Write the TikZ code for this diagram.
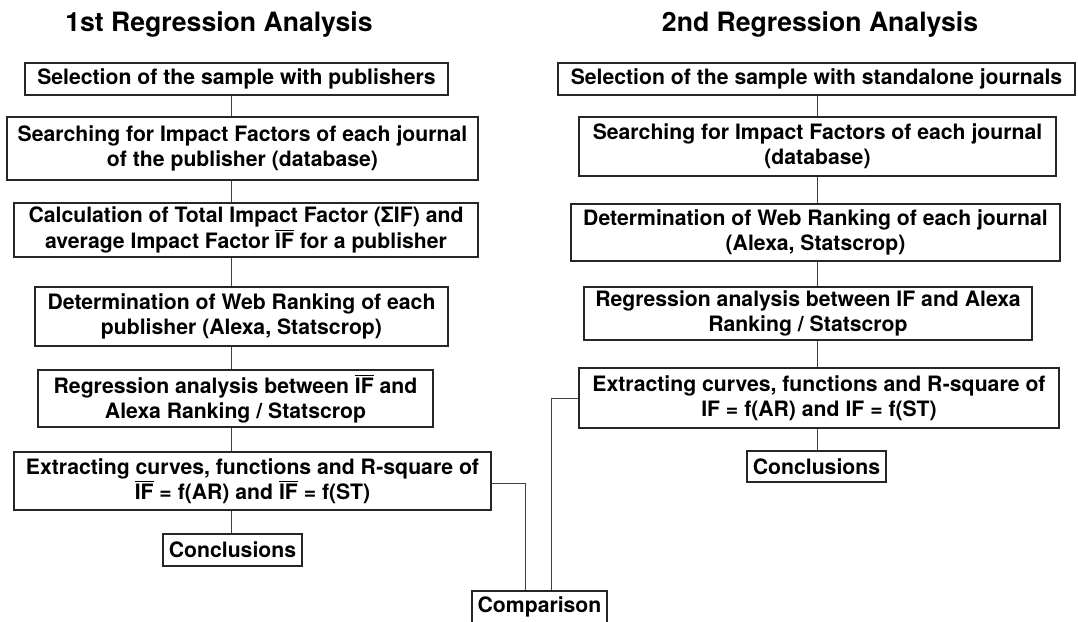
\documentclass[tikz,border=0pt]{standalone}
\usepackage{fontspec}
\setmainfont{TeX Gyre Heros}
\usepackage{tikz}
\usetikzlibrary{calc}
\newcommand{\IFbar}{$\overline{\mbox{IF}}$}

\begin{document}
\begin{tikzpicture}[x=0.5pt,y=-0.5pt,
  stepbox/.style={draw=black!85,line width=1pt,align=center,inner sep=2pt,
    font=\bfseries\fontsize{10.6}{12.6}\selectfont},
  headline/.style={anchor=base,font=\bfseries\fontsize{13.3}{15}\selectfont},
  link/.style={draw=black!75,line width=0.5pt}]
  \useasboundingbox (0,0) rectangle (1078,622);

  % headings
  \node[headline] (headL) at (219,31) {1st Regression Analysis};
  \node[headline] (headR) at (820,31) {2nd Regression Analysis};

  % first analysis (publishers)
  \node[stepbox,minimum width=211.5pt,minimum height=16pt] (pub1) at (236.5,79)
    {Selection of the sample with publishers};
  \node[stepbox,minimum width=235.5pt,minimum height=31.5pt] (pub2) at (242.5,148.5)
    {Searching for Impact Factors of each journal\\of the publisher (database)};
  \node[stepbox,minimum width=232pt,minimum height=26pt] (pub3) at (246,230)
    {Calculation of Total Impact Factor (ΣIF) and\\average Impact Factor \IFbar{} for a publisher};
  \node[stepbox,minimum width=206.5pt,minimum height=29.5pt] (pub4) at (241.5,316.5)
    {Determination of Web Ranking of each\\publisher (Alexa, Statscrop)};
  \node[stepbox,minimum width=197.5pt,minimum height=27.5pt] (pub5) at (235.5,398.5)
    {Regression analysis between \IFbar{} and\\Alexa Ranking / Statscrop};
  \node[stepbox,minimum width=238.5pt,minimum height=29pt] (pub6) at (252.5,481)
    {Extracting curves, functions and R-square of\\\IFbar{} = f(AR) and \IFbar{} = f(ST)};
  \node[stepbox,minimum width=69.5pt,minimum height=16pt] (pubc) at (232.5,550)
    {Conclusions};

  % second analysis (standalone journals)
  \node[stepbox,minimum width=258.5pt,minimum height=16pt] (sa1) at (816.5,79)
    {Selection of the sample with standalone journals};
  \node[stepbox,minimum width=238.5pt,minimum height=29.5pt] (sa2) at (817.5,146.5)
    {Searching for Impact Factors of each journal\\(database)};
  \node[stepbox,minimum width=244.5pt,minimum height=28.5pt] (sa3) at (815.5,232.5)
    {Determination of Web Ranking of each journal\\(Alexa, Statscrop)};
  \node[stepbox,minimum width=224pt,minimum height=25.5pt] (sa4) at (808,313.5)
    {Regression analysis between IF and Alexa\\Ranking / Statscrop};
  \node[stepbox,minimum width=240pt,minimum height=30pt] (sa5) at (819,398)
    {Extracting curves, functions and R-square of\\IF = f(AR) and IF = f(ST)};
  \node[stepbox,minimum width=69.5pt,minimum height=15.5pt] (sac) at (816.5,466.5)
    {Conclusions};

  \node[stepbox,minimum width=67.5pt,minimum height=16pt] (comp) at (539.5,607)
    {Comparison};

  % spines
  \coordinate (spineL) at (231,0);
  \coordinate (spineR) at (817,0);
  \foreach \a/\b in {pub1/pub2,pub2/pub3,pub3/pub4,pub4/pub5,pub5/pub6,pub6/pubc}
    \draw[link] (\a.south -| spineL) -- (\b.north -| spineL);
  \foreach \a/\b in {sa1/sa2,sa2/sa3,sa3/sa4,sa4/sa5,sa5/sac}
    \draw[link] (\a.south -| spineR) -- (\b.north -| spineR);

  % comparison
  \draw[link] ($(pub6.east)+(0,2.5)$) -| ($(comp.north)+(-14.5,0)$);
  \draw[link] (sa5.west) -| ($(comp.north)+(11.5,0)$);
\end{tikzpicture}
\end{document}
